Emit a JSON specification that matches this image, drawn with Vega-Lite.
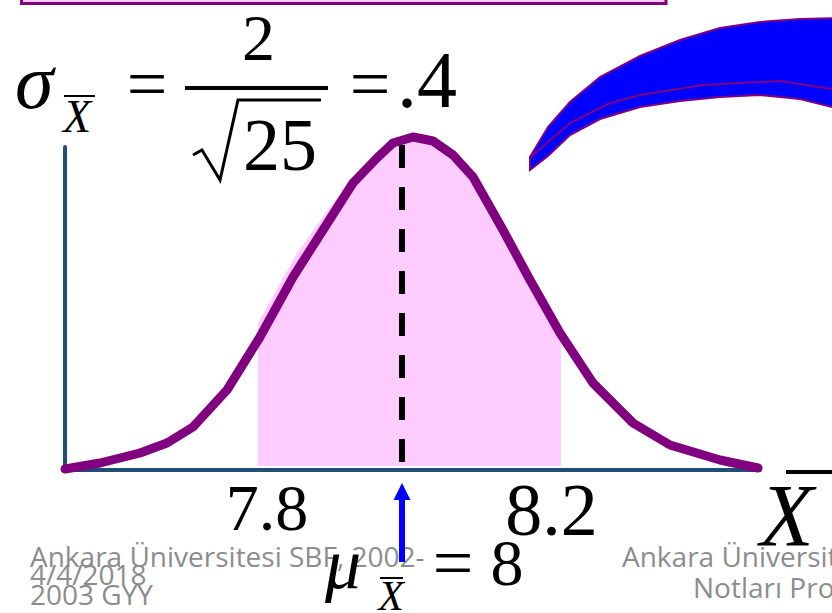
{
  "$schema": "https://vega.github.io/schema/vega-lite/v6.json",
  "width": 832,
  "height": 613,
  "padding": 0,
  "autosize": {"type": "none"},
  "background": "white",
  "config": {"view": {"stroke": null}},
  "encoding": {
    "x": {"field": "xbar", "type": "quantitative", "scale": {"domain": [7.45828, 8.56026], "nice": false, "zero": false}, "axis": null},
    "y": {"field": "h", "type": "quantitative", "scale": {"domain": [-144, 469], "nice": false, "zero": false}, "axis": null}
  },
  "layer": [
    {
      "data": {"values": [
        {"label": "Ankara Üniversitesi SBF, 2002-", "xbar": 7.498, "h": -98},
        {"label": "4/4/2018", "xbar": 7.498, "h": -116},
        {"label": "2003 GYY", "xbar": 7.498, "h": -136}
      ]},
      "mark": {"type": "text", "font": "Open Sans", "fontSize": 28, "color": "#8C8C8C", "align": "left", "baseline": "alphabetic"},
      "encoding": {"text": {"field": "label"}}
    },
    {
      "data": {"values": [
        {"label": "Ankara Üniversitesi", "xbar": 8.2821, "h": -98},
        {"label": "Notları Projesi", "xbar": 8.3762, "h": -129}
      ]},
      "mark": {"type": "text", "font": "Open Sans", "fontSize": 28, "color": "#8C8C8C", "align": "left", "baseline": "alphabetic"},
      "encoding": {"text": {"field": "label"}}
    },
    {
      "data": {"values": [{"xbar": 7.4868, "xbar2": 8.3404, "h": 489, "h2": 465.5}]},
      "mark": {"type": "rect", "fill": "#FFCCFF", "stroke": "#800080", "strokeWidth": 3},
      "encoding": {"x2": {"field": "xbar2"}, "y2": {"field": "h2"}}
    },
    {
      "data": {"values": [
        {"xbar": 8.1603, "h": 312, "h2": 299},
        {"xbar": 8.1841, "h": 342, "h2": 313},
        {"xbar": 8.2132, "h": 367, "h2": 334},
        {"xbar": 8.253, "h": 392, "h2": 350},
        {"xbar": 8.306, "h": 413, "h2": 362},
        {"xbar": 8.3589, "h": 429, "h2": 368},
        {"xbar": 8.4119, "h": 441, "h2": 372},
        {"xbar": 8.4649, "h": 447, "h2": 374},
        {"xbar": 8.5179, "h": 450, "h2": 370},
        {"xbar": 8.5709, "h": 451, "h2": 360}
      ]},
      "mark": {"type": "area", "fill": "#0000FF", "stroke": "#800080", "strokeWidth": 2, "opacity": 1},
      "encoding": {"y2": {"field": "h2"}}
    },
    {
      "data": {"values": [
        {"xbar": 8.1603, "h": 311},
        {"xbar": 8.1841, "h": 327},
        {"xbar": 8.2132, "h": 346},
        {"xbar": 8.2662, "h": 366},
        {"xbar": 8.306, "h": 374},
        {"xbar": 8.3894, "h": 384},
        {"xbar": 8.4914, "h": 388},
        {"xbar": 8.5603, "h": 380}
      ]},
      "mark": {"type": "line", "stroke": "#800080", "strokeWidth": 2},
      "encoding": {}
    },
    {
      "data": {"values": [
        {"xbar": 7.8, "h": 146},
        {"xbar": 7.8517, "h": 216},
        {"xbar": 7.8954, "h": 262},
        {"xbar": 7.9377, "h": 302},
        {"xbar": 7.9695, "h": 324},
        {"xbar": 8.0, "h": 335},
        {"xbar": 8.0318, "h": 326},
        {"xbar": 8.0583, "h": 312},
        {"xbar": 8.0848, "h": 290},
        {"xbar": 8.1245, "h": 237},
        {"xbar": 8.1603, "h": 187},
        {"xbar": 8.2013, "h": 129}
      ]},
      "mark": {"type": "area", "fill": "#FFCCFF", "opacity": 1},
      "encoding": {"y2": {"datum": 3}}
    },
    {
      "data": {"values": [{"xbar": 7.9907, "h": 324, "h2": 5}]},
      "mark": {"type": "rule", "color": "black", "strokeWidth": 6, "strokeDash": [23, 19]},
      "encoding": {"y2": {"field": "h2"}}
    },
    {
      "data": {"values": [
        {"xbar": 7.5444, "xbar2": 7.5444, "h": 322, "h2": -1},
        {"xbar": 7.5444, "xbar2": 8.4649, "h": -1, "h2": -1}
      ]},
      "mark": {"type": "rule", "color": "#1F4E79", "strokeWidth": 4, "strokeCap": "round"},
      "encoding": {"x2": {"field": "xbar2"}, "y2": {"field": "h2"}}
    },
    {
      "data": {"values": [
        {"xbar": 7.5444, "h": 0},
        {"xbar": 7.5907, "h": 6},
        {"xbar": 7.6437, "h": 16},
        {"xbar": 7.6795, "h": 26},
        {"xbar": 7.7139, "h": 42},
        {"xbar": 7.7589, "h": 79},
        {"xbar": 7.8026, "h": 132},
        {"xbar": 7.8464, "h": 192},
        {"xbar": 7.8861, "h": 239},
        {"xbar": 7.9258, "h": 286},
        {"xbar": 7.9576, "h": 311},
        {"xbar": 7.9788, "h": 326},
        {"xbar": 8.0053, "h": 332},
        {"xbar": 8.0318, "h": 328},
        {"xbar": 8.0583, "h": 314},
        {"xbar": 8.0848, "h": 292},
        {"xbar": 8.1245, "h": 239},
        {"xbar": 8.1603, "h": 189},
        {"xbar": 8.2, "h": 136},
        {"xbar": 8.2437, "h": 86},
        {"xbar": 8.2967, "h": 46},
        {"xbar": 8.3457, "h": 24},
        {"xbar": 8.4119, "h": 9},
        {"xbar": 8.4623, "h": 1}
      ]},
      "mark": {"type": "line", "stroke": "#800080", "strokeWidth": 9, "strokeCap": "round", "strokeJoin": "round"},
      "encoding": {}
    },
    {
      "data": {"values": [{"xbar": 7.9907, "h": -31, "h2": -93}]},
      "mark": {"type": "rule", "color": "#0000FF", "strokeWidth": 6},
      "encoding": {"y2": {"field": "h2"}}
    },
    {
      "data": {"values": [{"xbar": 7.9907, "h": -22.5}]},
      "mark": {"type": "point", "shape": "M0,-1L1,1L-1,1Z", "filled": true, "size": 289, "color": "#0000FF", "opacity": 1},
      "encoding": {}
    },
    {
      "data": {"values": [
        {"xbar": 7.7033, "xbar2": 7.8927, "h": 381, "h2": 381},
        {"xbar": 8.4993, "xbar2": 8.5709, "h": -3, "h2": -3}
      ]},
      "mark": {"type": "rule", "color": "black", "strokeWidth": 4},
      "encoding": {"x2": {"field": "xbar2"}, "y2": {"field": "h2"}}
    },
    {
      "data": {"values": [
        {"xbar": 7.543, "xbar2": 7.5841, "h": 373, "h2": 373},
        {"xbar": 7.9616, "xbar2": 7.9921, "h": -109, "h2": -109}
      ]},
      "mark": {"type": "rule", "color": "black", "strokeWidth": 2},
      "encoding": {"x2": {"field": "xbar2"}, "y2": {"field": "h2"}}
    },
    {
      "data": {"values": [
        {"xbar": 7.7139, "h": 314},
        {"xbar": 7.7258, "h": 319},
        {"xbar": 7.7497, "h": 289},
        {"xbar": 7.7735, "h": 369},
        {"xbar": 7.8834, "h": 369}
      ]},
      "mark": {"type": "line", "stroke": "black", "strokeWidth": 3, "strokeJoin": "miter"},
      "encoding": {}
    },
    {
      "data": {"values": [
        {"label": "2", "xbar": 7.8007, "h": 409},
        {"label": "7.8", "xbar": 7.8119, "h": -61},
        {"label": "8", "xbar": 8.1298, "h": -116}
      ]},
      "mark": {"type": "text", "font": "Liberation Serif", "fontSize": 66, "color": "black", "align": "center", "baseline": "alphabetic"},
      "encoding": {"text": {"field": "label"}}
    },
    {
      "data": {"values": [
        {"label": "=", "xbar": 7.653, "h": 361},
        {"label": "=", "xbar": 7.9483, "h": 361},
        {"label": "=", "xbar": 8.0583, "h": -118}
      ]},
      "mark": {"type": "text", "font": "Liberation Serif", "fontSize": 72, "color": "black", "align": "center", "baseline": "alphabetic"},
      "encoding": {"text": {"field": "label"}}
    },
    {
      "data": {"values": [
        {"label": "25", "xbar": 7.8291, "h": 299},
        {"label": "8.2", "xbar": 8.1887, "h": -66}
      ]},
      "mark": {"type": "text", "font": "Liberation Serif", "fontSize": 74, "color": "black", "align": "center", "baseline": "alphabetic"},
      "encoding": {"text": {"field": "label"}}
    },
    {
      "data": {"values": [{"label": ".4", "xbar": 8.0238, "h": 362}]},
      "mark": {"type": "text", "font": "Liberation Serif", "fontSize": 80, "color": "black", "align": "center", "baseline": "alphabetic"},
      "encoding": {"text": {"field": "label"}}
    },
    {
      "data": {"values": [{"label": "σ", "xbar": 7.4782, "h": 361}]},
      "mark": {"type": "text", "font": "Liberation Serif", "fontStyle": "italic", "fontSize": 78, "color": "black", "align": "left", "baseline": "alphabetic"},
      "encoding": {"text": {"field": "label"}}
    },
    {
      "data": {"values": [{"label": "X", "xbar": 7.5603, "h": 337}]},
      "mark": {"type": "text", "font": "Liberation Serif", "fontStyle": "italic", "fontSize": 46, "color": "black", "align": "center", "baseline": "alphabetic"},
      "encoding": {"text": {"field": "label"}}
    },
    {
      "data": {"values": [{"label": "μ", "xbar": 7.8887, "h": -119}]},
      "mark": {"type": "text", "font": "Liberation Serif", "fontStyle": "italic", "fontSize": 72, "color": "black", "align": "left", "baseline": "alphabetic"},
      "encoding": {"text": {"field": "label"}}
    },
    {
      "data": {"values": [{"label": "X", "xbar": 7.9762, "h": -141}]},
      "mark": {"type": "text", "font": "Liberation Serif", "fontStyle": "italic", "fontSize": 42, "color": "black", "align": "center", "baseline": "alphabetic"},
      "encoding": {"text": {"field": "label"}}
    },
    {
      "data": {"values": [{"label": "X", "xbar": 8.4649, "h": -76}]},
      "mark": {"type": "text", "font": "Liberation Serif", "fontStyle": "italic", "fontSize": 88, "color": "black", "align": "left", "baseline": "alphabetic"},
      "encoding": {"text": {"field": "label"}}
    }
  ]
}
